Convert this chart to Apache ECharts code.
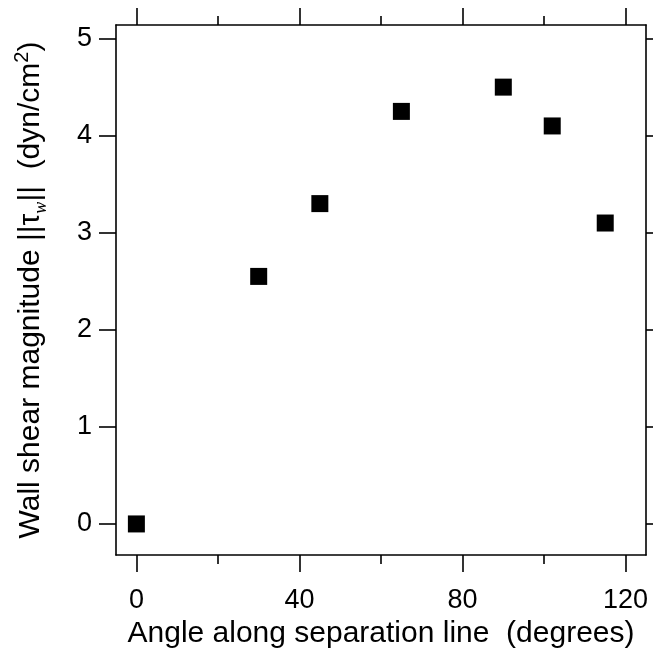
<!DOCTYPE html>
<html>
<head>
<meta charset="utf-8">
<script src="https://cdn.jsdelivr.net/npm/echarts@6/dist/echarts.min.js"></script>
<style>html,body{margin:0;padding:0;background:#fff}#c{width:653px;height:655px}</style>
</head>
<body>
<div id="c"></div>
<script>
// Data
const angles = [0, 30, 45, 65, 90, 102, 115];
const shear = [0, 2.55, 3.3, 4.25, 4.5, 4.1, 3.1];
const xMajorTicks = [0, 40, 80, 120];
const xMinorTicks = [20, 60, 100];
const yTicks = [0, 1, 2, 3, 4, 5];
const xTitle = 'Angle along separation line  (degrees)';

const FONT = 'Liberation Sans, Arial, Helvetica, sans-serif';
const X_MIN = -5, X_MAX = 125, Y_MIN = -0.32, Y_MAX = 5.14;
const lineStyle = { color: '#000', width: 1.6 };

function xAxisDef(position, ticks, len, showLine, showLabel, extra) {
  return Object.assign({
    type: 'value', position: position, min: X_MIN, max: X_MAX,
    axisLine: { show: showLine, onZero: false, lineStyle: lineStyle },
    axisTick: { show: true, inside: false, length: len, customValues: ticks, lineStyle: lineStyle },
    axisLabel: { show: showLabel, customValues: ticks, margin: 32, color: '#000', fontSize: 27, fontFamily: FONT },
    splitLine: { show: false }
  }, extra || {});
}

const chart = echarts.init(document.getElementById('c'), null, { renderer: 'canvas' });
chart.setOption({
  animation: false,
  backgroundColor: '#fff',
  grid: { left: 116, right: 7, top: 25, bottom: 100, containLabel: false },
  xAxis: [
    xAxisDef('bottom', xMajorTicks, 17, true, true, {
      name: xTitle, nameLocation: 'middle', nameGap: 60,
      nameTextStyle: { color: '#000', fontSize: 30, fontFamily: FONT }
    }),
    xAxisDef('bottom', xMinorTicks, 9, false, false),
    xAxisDef('top', xMajorTicks, 17, true, false),
    xAxisDef('top', xMinorTicks, 9, false, false)
  ],
  yAxis: [
    {
      type: 'value', position: 'left', min: Y_MIN, max: Y_MAX,
      axisLine: { show: true, onZero: false, lineStyle: lineStyle },
      axisTick: { show: true, inside: false, length: 17, customValues: yTicks, lineStyle: lineStyle },
      axisLabel: { customValues: yTicks, margin: 24, color: '#000', fontSize: 27, fontFamily: FONT },
      splitLine: { show: false },
      name: '{n|Wall shear magnitude ||τ}{sub|w}{n|||  (dyn/cm}{sup|2}{n|)}',
      nameLocation: 'middle', nameRotate: 90, nameGap: 66,
      nameTextStyle: {
        color: '#000', fontSize: 30, fontFamily: FONT,
        rich: {
          n: { color: '#000', fontSize: 30, fontFamily: FONT, lineHeight: 38 },
          sub: { color: '#000', fontSize: 18, fontFamily: 'Liberation Serif, DejaVu Serif, serif', fontStyle: 'italic', verticalAlign: 'bottom', lineHeight: 20 },
          sup: { color: '#000', fontSize: 20, fontFamily: FONT, verticalAlign: 'top', lineHeight: 20 }
        }
      }
    },
    {
      type: 'value', position: 'right', min: Y_MIN, max: Y_MAX,
      axisLine: { show: true, onZero: false, lineStyle: lineStyle },
      axisTick: { show: true, inside: false, length: 10, customValues: yTicks, lineStyle: lineStyle },
      axisLabel: { show: false },
      splitLine: { show: false }
    }
  ],
  series: [{
    type: 'scatter',
    xAxisIndex: 0, yAxisIndex: 0,
    symbol: 'rect', symbolSize: 17,
    itemStyle: { color: '#000', opacity: 1 },
    data: angles.map((a, i) => [a, shear[i]])
  }]
});
</script>
</body>
</html>
